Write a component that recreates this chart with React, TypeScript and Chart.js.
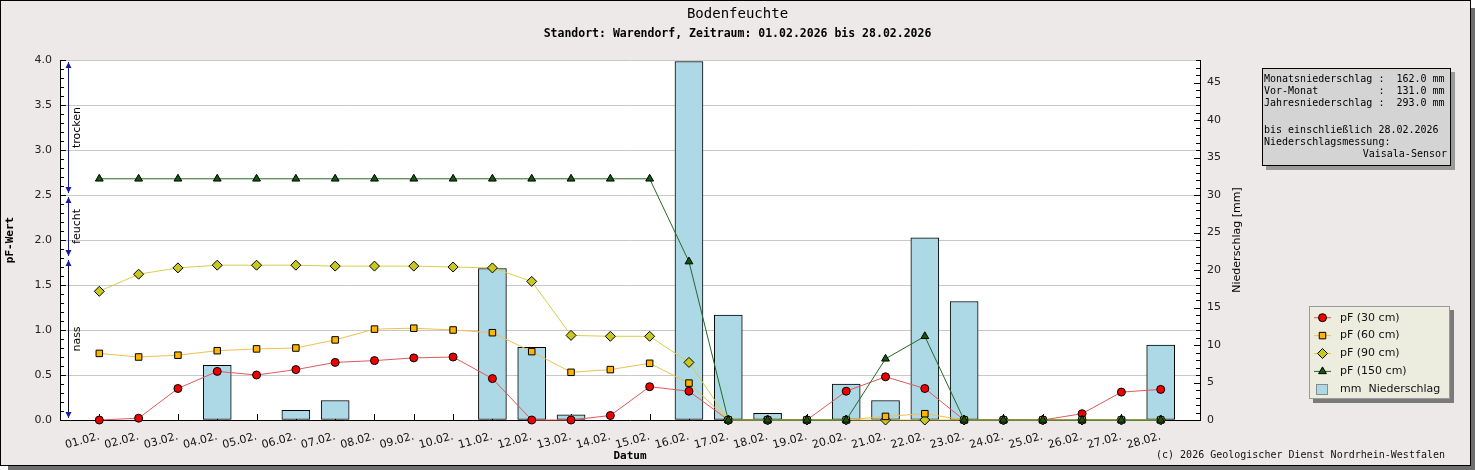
import { useEffect, useRef } from "react";
import { Chart, registerables } from "chart.js";
import type { Plugin } from "chart.js";
import { drawPoint } from "chart.js/helpers";

Chart.register(...registerables);

// --- data ---
const days = [1, 2, 3, 4, 5, 6, 7, 8, 9, 10, 11, 12, 13, 14, 15, 16, 17, 18, 19, 20, 21, 22, 23, 24, 25, 26, 27, 28];
const dateLabels = [
  "01.02.", "02.02.", "03.02.", "04.02.", "05.02.", "06.02.", "07.02.", "08.02.", "09.02.", "10.02.",
  "11.02.", "12.02.", "13.02.", "14.02.", "15.02.", "16.02.", "17.02.", "18.02.", "19.02.", "20.02.",
  "21.02.", "22.02.", "23.02.", "24.02.", "25.02.", "26.02.", "27.02.", "28.02.",
];
const pf30 = [0, 0.02, 0.35, 0.54, 0.5, 0.56, 0.64, 0.66, 0.69, 0.7, 0.46, 0, 0, 0.05, 0.37, 0.32, 0, 0, 0, 0.32, 0.48, 0.35, 0, 0, 0, 0.07, 0.31, 0.34];
const pf60 = [0.74, 0.7, 0.72, 0.77, 0.79, 0.8, 0.89, 1.01, 1.02, 1.0, 0.97, 0.76, 0.53, 0.56, 0.63, 0.41, 0, 0, 0, 0, 0.04, 0.07, 0, 0, 0, 0, 0, 0];
const pf90 = [1.43, 1.62, 1.69, 1.72, 1.72, 1.72, 1.71, 1.71, 1.71, 1.7, 1.69, 1.54, 0.94, 0.93, 0.93, 0.64, 0, 0, 0, 0, 0, 0, 0, 0, 0, 0, 0, 0];
const pf150 = [2.68, 2.68, 2.68, 2.68, 2.68, 2.68, 2.68, 2.68, 2.68, 2.68, 2.68, 2.68, 2.68, 2.68, 2.68, 1.76, 0, 0, 0, 0, 0.68, 0.93, 0, 0, 0, 0, 0, 0];
const precip = [0, 0, 0, 7.3, 0, 1.3, 2.6, 0, 0, 0, 20.2, 9.7, 0.7, 0, 0, 47.8, 14.0, 0.9, 0, 4.8, 2.6, 24.3, 15.8, 0, 0, 0, 0, 10.0];

const zoneNames = ["trocken", "feucht", "nass"];
const zoneUpper = [4.0, 2.5, 1.8];
const zoneLower = [2.5, 1.8, 0.0];

const infoLines = [
  "Monatsniederschlag :  162.0 mm",
  "Vor-Monat          :  131.0 mm",
  "Jahresniederschlag :  293.0 mm",
  "",
  "bis einschließlich 28.02.2026",
  "Niederschlagsmessung:",
];
const infoRight = "Vaisala-Sensor";

const W = 1475;
const H = 470;
const MONO = '"DejaVu Sans Mono", monospace';
const SANS = '"DejaVu Sans", sans-serif';

const decorPlugin: Plugin = {
  id: "decor",
  beforeDraw(chart) {
    const { ctx, chartArea: a } = chart;
    ctx.save();
    ctx.fillStyle = "#fff";
    ctx.fillRect(0, 0, W, H);
    ctx.fillStyle = "#6e6e6e";
    ctx.fillRect(1471, 8, 4, H - 8);
    ctx.fillRect(8, 466, W - 8, 4);
    ctx.fillStyle = "#ece9e8";
    ctx.fillRect(0, 0, 1471, 466);
    ctx.strokeStyle = "#000";
    ctx.lineWidth = 1;
    ctx.strokeRect(0.5, 0.5, 1470, 465);
    ctx.fillStyle = "#fff";
    ctx.fillRect(a.left, a.top, a.right - a.left, a.bottom - a.top);

    // titles
    ctx.fillStyle = "#000";
    ctx.textAlign = "center";
    ctx.textBaseline = "middle";
    ctx.font = `14px ${MONO}`;
    ctx.fillText("Bodenfeuchte", W / 2, 14);
    ctx.font = `bold 11.5px ${MONO}`;
    ctx.fillText("Standort: Warendorf, Zeitraum: 01.02.2026 bis 28.02.2026", W / 2, 34);
    ctx.restore();
  },
  beforeDatasetsDraw(chart) {
    const { ctx, chartArea: a } = chart;
    const x = chart.scales.x;
    const y = chart.scales.y;
    const y2 = chart.scales.y2;
    ctx.save();
    ctx.strokeStyle = "#000";
    ctx.lineWidth = 1;
    ctx.beginPath();
    for (let i = 0; i <= 40; i++) {
      const py = Math.round(y.getPixelForValue(i / 10)) + 0.5;
      ctx.moveTo(a.left, py);
      ctx.lineTo(a.left + (i % 5 === 0 ? 6 : 4), py);
    }
    for (let i = 0; i <= 48; i++) {
      const py = Math.round(y2.getPixelForValue(i)) + 0.5;
      ctx.moveTo(a.right, py);
      ctx.lineTo(a.right - (i % 5 === 0 ? 6 : 4), py);
    }
    days.forEach((d) => {
      const px = Math.round(x.getPixelForValue(d)) + 0.5;
      ctx.moveTo(px, a.bottom);
      ctx.lineTo(px, a.bottom - 6);
    });
    ctx.stroke();
    ctx.restore();
  },
  afterDraw(chart) {
    const { ctx, chartArea: a } = chart;
    const y = chart.scales.y;
    ctx.save();

    // zone arrows
    const ax = a.left + 8.5;
    zoneNames.forEach((name, i) => {
      const top = y.getPixelForValue(zoneUpper[i]) + 2;
      const bot = y.getPixelForValue(zoneLower[i]) - 2;
      ctx.strokeStyle = i < 2 ? "#1c1c9a" : "#101030";
      ctx.beginPath();
      ctx.moveTo(ax, top);
      ctx.lineTo(ax, bot);
      ctx.stroke();
      ctx.fillStyle = "#1c1c9a";
      ctx.beginPath();
      ctx.moveTo(ax, top);
      ctx.lineTo(ax - 3, top + 6);
      ctx.lineTo(ax + 3, top + 6);
      ctx.closePath();
      ctx.moveTo(ax, bot);
      ctx.lineTo(ax - 3, bot - 6);
      ctx.lineTo(ax + 3, bot - 6);
      ctx.closePath();
      ctx.fill();
      ctx.save();
      ctx.translate(ax + 9, (top + bot) / 2);
      ctx.rotate(-Math.PI / 2);
      ctx.fillStyle = "#000";
      ctx.font = `11px ${SANS}`;
      ctx.textAlign = "center";
      ctx.textBaseline = "middle";
      ctx.fillText(name, 0, 0);
      ctx.restore();
    });

    // right axis title
    ctx.save();
    ctx.translate(1237, (a.top + a.bottom) / 2);
    ctx.rotate(-Math.PI / 2);
    ctx.fillStyle = "#000";
    ctx.font = `11px ${SANS}`;
    ctx.textAlign = "center";
    ctx.textBaseline = "middle";
    ctx.fillText("Niederschlag [mm]", 0, 0);
    ctx.restore();

    // info box
    ctx.fillStyle = "#9a9a9a";
    ctx.fillRect(1266, 72, 189, 98);
    ctx.fillStyle = "#d4d4d4";
    ctx.fillRect(1262, 68, 189, 98);
    ctx.strokeStyle = "#000";
    ctx.strokeRect(1262.5, 68.5, 188, 97);
    ctx.fillStyle = "#000";
    ctx.font = `10px ${MONO}`;
    ctx.textBaseline = "middle";
    ctx.textAlign = "left";
    infoLines.forEach((line, i) => {
      const ly = i < 4 ? 79 + 12 * i : 130 + 12 * (i - 4);
      ctx.fillText(line, 1264, ly);
    });
    ctx.textAlign = "right";
    ctx.fillText(infoRight, 1447, 154);

    // legend box
    ctx.fillStyle = "#7a7a7a";
    ctx.fillRect(1313, 310, 141, 93);
    ctx.fillStyle = "#ececdf";
    ctx.fillRect(1309, 306, 141, 93);
    ctx.strokeStyle = "#9a9a9a";
    ctx.strokeRect(1309.5, 306.5, 140, 92);
    const rows = [317.7, 335.6, 353.5, 371.4, 389.3];
    const lineSets = chart.data.datasets.slice(1) as any[];
    lineSets.forEach((ds, i) => {
      const ry = rows[i];
      ctx.strokeStyle = ds.borderColor;
      ctx.lineWidth = 1;
      ctx.beginPath();
      ctx.moveTo(1314, ry);
      ctx.lineTo(1331, ry);
      ctx.stroke();
      ctx.fillStyle = ds.pointBackgroundColor;
      ctx.strokeStyle = "#000";
      drawPoint(ctx, { pointStyle: ds.pointStyle, radius: ds.pointRadius, borderWidth: 1, rotation: 0 }, 1322.5, ry);
      ctx.fillStyle = "#111";
      ctx.font = `11px ${SANS}`;
      ctx.textAlign = "left";
      ctx.textBaseline = "middle";
      ctx.fillText(ds.label, 1340, ry);
    });
    const bar = chart.data.datasets[0] as any;
    ctx.fillStyle = bar.backgroundColor;
    ctx.fillRect(1316.5, 384.5, 11, 10);
    ctx.strokeStyle = "#8a8a8a";
    ctx.strokeRect(1316.5, 384.5, 11, 10);
    ctx.fillStyle = "#111";
    ctx.fillText(bar.label, 1340, rows[4]);

    // copyright
    ctx.font = `10px ${MONO}`;
    ctx.textAlign = "right";
    ctx.fillStyle = "#111";
    ctx.fillText("(c) 2026 Geologischer Dienst Nordrhein-Westfalen", 1445, 455);
    ctx.restore();
  },
};

const tickFont = { family: SANS, size: 11 };

export default function App() {
  const canvasRef = useRef<HTMLCanvasElement>(null);
  const chartRef = useRef<Chart | null>(null);

  useEffect(() => {
    if (!canvasRef.current) return;
    if (chartRef.current) chartRef.current.destroy();

    const pts = (vals: number[]) => days.map((d, i) => ({ x: d, y: vals[i] }));

    chartRef.current = new Chart(canvasRef.current, {
      type: "bar",
      data: {
        datasets: [
          {
            type: "bar",
            label: "mm  Niederschlag",
            data: days.map((d, i) => ({ x: d, y: precip[i] > 0 ? precip[i] : null })),
            backgroundColor: "#add8e6",
            borderColor: "#000",
            borderWidth: 1,
            borderSkipped: false,
            barThickness: 28,
            yAxisID: "y2",
            order: 10,
          },
          {
            type: "line",
            label: "pF (30 cm)",
            data: pts(pf30),
            borderColor: "#e05a5a",
            borderWidth: 1,
            pointStyle: "circle",
            pointRadius: 4,
            pointBackgroundColor: "#ee0000",
            pointBorderColor: "#000",
            pointBorderWidth: 1,
            yAxisID: "y",
            order: 4,
            clip: false,
          },
          {
            type: "line",
            label: "pF (60 cm)",
            data: pts(pf60),
            borderColor: "#f0c050",
            borderWidth: 1,
            pointStyle: "rect",
            pointRadius: 4.6,
            pointBackgroundColor: "#ffb400",
            pointBorderColor: "#000",
            pointBorderWidth: 1,
            yAxisID: "y",
            order: 2,
            clip: false,
          },
          {
            type: "line",
            label: "pF (90 cm)",
            data: pts(pf90),
            borderColor: "#d8d048",
            borderWidth: 1,
            pointStyle: "rectRot",
            pointRadius: 5,
            pointBackgroundColor: "#c8c81e",
            pointBorderColor: "#000",
            pointBorderWidth: 1,
            yAxisID: "y",
            order: 3,
            clip: false,
          },
          {
            type: "line",
            label: "pF (150 cm)",
            data: pts(pf150),
            borderColor: "#236b23",
            borderWidth: 1,
            pointStyle: "triangle",
            pointRadius: 4.5,
            pointBackgroundColor: "#0f5a0f",
            pointBorderColor: "#000",
            pointBorderWidth: 1,
            yAxisID: "y",
            order: 1,
            clip: false,
          },
        ],
      },
      options: {
        responsive: false,
        devicePixelRatio: 1,
        animation: false,
        events: [],
        layout: { padding: { left: 0, right: 225, top: 60, bottom: 7 } },
        plugins: {
          legend: { display: false },
          tooltip: { enabled: false },
        },
        scales: {
          x: {
            type: "linear",
            min: 0,
            max: 29,
            offset: false,
            afterBuildTicks: (s: any) => {
              s.ticks = days.map((d) => ({ value: d }));
            },
            afterFit: (s: any) => {
              s.height = 43;
            },
            grid: { display: false },
            border: { display: true, color: "#000" },
            ticks: {
              autoSkip: false,
              minRotation: 15,
              maxRotation: 15,
              padding: 2,
              font: tickFont,
              color: "#111",
              callback: (v: any) => dateLabels[days.indexOf(Number(v))] ?? "",
            },
            title: {
              display: true,
              text: "Datum",
              color: "#000",
              font: { family: MONO, size: 11, weight: "bold" },
              padding: { top: 0, bottom: 0 },
            },
          },
          y: {
            position: "left",
            min: 0,
            max: 4,
            afterFit: (s: any) => {
              s.width = 60;
            },
            grid: { color: "#c8c8c8", drawTicks: false },
            border: { color: "#000" },
            ticks: {
              stepSize: 0.5,
              padding: 8,
              font: tickFont,
              color: "#222",
              callback: (v: any) => Number(v).toFixed(1),
            },
            title: {
              display: true,
              text: "pF-Wert",
              color: "#000",
              font: { family: MONO, size: 11, weight: "bold" },
              padding: { top: 4, bottom: 4 },
            },
          },
          y2: {
            position: "right",
            min: 0,
            max: 48,
            afterFit: (s: any) => {
              s.width = 50;
            },
            grid: { drawOnChartArea: false, drawTicks: false },
            border: { color: "#000" },
            ticks: {
              stepSize: 5,
              includeBounds: false,
              padding: 7,
              font: tickFont,
              color: "#222",
            },
          },
        },
      },
      plugins: [decorPlugin],
    } as any);

    return () => {
      if (chartRef.current) {
        chartRef.current.destroy();
        chartRef.current = null;
      }
    };
  }, []);

  return (
    <div style={{ position: "absolute", left: 0, top: 0, width: W, height: H }}>
      <canvas ref={canvasRef} width={W} height={H} style={{ display: "block" }} />
    </div>
  );
}
